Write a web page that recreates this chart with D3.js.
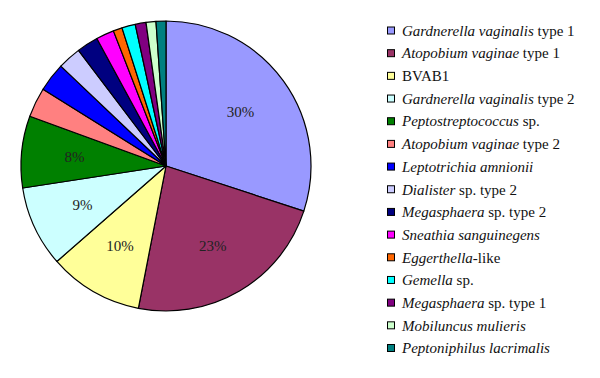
<!DOCTYPE html>
<html><head><meta charset="utf-8">
<script src="https://cdn.jsdelivr.net/npm/d3@7"></script>
<style>body{margin:0;background:#fff}svg{display:block}text{font-family:'Liberation Serif','DejaVu Serif',serif}</style>
</head><body>
<script>
const italicNames = ["Gardnerella vaginalis","Atopobium vaginae","","Gardnerella vaginalis","Peptostreptococcus","Atopobium vaginae","Leptotrichia amnionii","Dialister","Megasphaera","Sneathia sanguinegens","Eggerthella","Gemella","Megasphaera","Mobiluncus mulieris","Peptoniphilus lacrimalis"];
const romanNames = [" type 1"," type 1","BVAB1"," type 2"," sp."," type 2",""," sp. type 2"," sp. type 2","","-like"," sp."," sp. type 1","",""];
const values = [30, 23, 10.5, 9, 8, 3.3, 3.2, 2.6, 2.4, 2, 1, 1.5, 1.2, 1.1, 1.1];
const pctLabels = ["30%","23%","10%","9%","8%","","","","","","","","","",""];
const colors = ["#9999FF","#993366","#FFFF99","#CCFFFF","#008000","#FF8080","#0000FF","#CCCCFF","#000080","#FF00FF","#FF6600","#00FFFF","#800080","#CCFFCC","#008080"];

const W=600,H=378;
const svg=d3.select("body").append("svg").attr("width",W).attr("height",H);
const cx=166, cy=166, R=145;
const pie=d3.pie().sort(null).value(d=>d);
const arcs=pie(values);
const arc=d3.arc().innerRadius(0).outerRadius(R);
const labelArc=d3.arc().innerRadius(0).outerRadius(R*1.27);
const g=svg.append("g").attr("transform",`translate(${cx},${cy})`);
g.selectAll("path").data(arcs).join("path")
  .attr("d",arc).attr("fill",(d,i)=>colors[i])
  .attr("stroke","#000").attr("stroke-width",1.2).attr("stroke-linejoin","round");
g.selectAll("text").data(arcs).join("text")
  .attr("transform",d=>`translate(${labelArc.centroid(d)})`)
  .attr("text-anchor","middle").attr("dy","0.35em")
  .attr("font-size",15)
  .attr("fill","#222")
  .text((d,i)=>pctLabels[i]);

const legY=d3.scalePoint().domain(d3.range(values.length)).range([30.5,348]);
const lg=svg.append("g");
const rows=lg.selectAll("g").data(values).join("g")
  .attr("transform",(d,i)=>`translate(387,${legY(i)})`);
rows.append("rect").attr("x",0.5).attr("y",-3.5).attr("width",7).attr("height",7)
  .attr("fill",(d,i)=>colors[i]).attr("stroke","#000").attr("stroke-width",1);
const t=rows.append("text").attr("x",15).attr("dy","0.35em")
  .attr("font-size",15).attr("fill","#111");
t.append("tspan").attr("font-style","italic").text((d,i)=>italicNames[i]);
t.append("tspan").text((d,i)=>romanNames[i]);
</script>
</body></html>
